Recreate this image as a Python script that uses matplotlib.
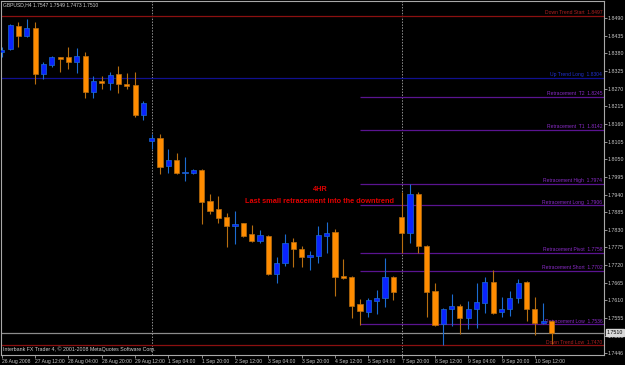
import matplotlib
matplotlib.use("Agg")
import matplotlib.pyplot as plt
import matplotlib.transforms as mtransforms

# ===============================
# DATOS (GBPUSD H4)
# ===============================
opens = [1.8384, 1.8393, 1.8465, 1.8434, 1.8459, 1.8316, 1.8344, 1.8369, 1.8368, 1.8353,
         1.8372, 1.8259, 1.8294, 1.8287, 1.8315, 1.8284, 1.8281, 1.8188, 1.8108, 1.8117,
         1.8029, 1.8048, 1.8007, 1.8007, 1.8016, 1.7920, 1.7895, 1.7870, 1.7842, 1.7851,
         1.7817, 1.7795, 1.7811, 1.7692, 1.7727, 1.7792, 1.7770, 1.7745, 1.7748, 1.7811,
         1.7823, 1.7686, 1.7683, 1.7599, 1.7574, 1.7608, 1.7617, 1.7683, 1.7870, 1.7820,
         1.7942, 1.7780, 1.7639, 1.7537, 1.7583, 1.7593, 1.7555, 1.7583, 1.7602, 1.7667,
         1.7574, 1.7583, 1.7617, 1.7667, 1.7583, 1.7540, 1.7547]
highs = [1.8400, 1.8471, 1.8478, 1.8487, 1.8478, 1.8353, 1.8372, 1.8370, 1.8400, 1.8397,
         1.8384, 1.8309, 1.8309, 1.8322, 1.8340, 1.8319, 1.8322, 1.8231, 1.8129, 1.8129,
         1.8082, 1.8069, 1.8057, 1.8019, 1.8019, 1.7942, 1.7935, 1.7882, 1.7889, 1.7852,
         1.7845, 1.7829, 1.7814, 1.7745, 1.7817, 1.7805, 1.7780, 1.7764, 1.7842, 1.7854,
         1.7833, 1.7739, 1.7686, 1.7614, 1.7617, 1.7642, 1.7742, 1.7686, 1.7948, 1.7973,
         1.7948, 1.7783, 1.7664, 1.7586, 1.7630, 1.7599, 1.7608, 1.7664, 1.7683, 1.7705,
         1.7621, 1.7639, 1.7677, 1.7670, 1.7621, 1.7602, 1.7549]
lows = [1.8369, 1.8390, 1.8400, 1.8431, 1.8284, 1.8300, 1.8337, 1.8322, 1.8331, 1.8319,
        1.8241, 1.8241, 1.8269, 1.8266, 1.8256, 1.8269, 1.8182, 1.8172, 1.8082, 1.8004,
        1.8007, 1.8004, 1.7982, 1.8004, 1.7848, 1.7879, 1.7851, 1.7776, 1.7786, 1.7808,
        1.7792, 1.7789, 1.7689, 1.7664, 1.7717, 1.7714, 1.7714, 1.7705, 1.7727, 1.7758,
        1.7624, 1.7677, 1.7555, 1.7533, 1.7558, 1.7568, 1.7590, 1.7611, 1.7758, 1.7789,
        1.7758, 1.7558, 1.7530, 1.7471, 1.7530, 1.7505, 1.7521, 1.7524, 1.7571, 1.7568,
        1.7558, 1.7561, 1.7602, 1.7546, 1.7502, 1.7537, 1.7473]
closes = [1.8390, 1.8468, 1.8434, 1.8459, 1.8316, 1.8347, 1.8369, 1.8362, 1.8353, 1.8372,
          1.8259, 1.8294, 1.8287, 1.8312, 1.8284, 1.8278, 1.8188, 1.8225, 1.8117, 1.8027,
          1.8048, 1.8007, 1.8009, 1.8016, 1.7917, 1.7889, 1.7867, 1.7842, 1.7848, 1.7811,
          1.7795, 1.7814, 1.7692, 1.7727, 1.7789, 1.7770, 1.7745, 1.7752, 1.7814, 1.7820,
          1.7683, 1.7680, 1.7593, 1.7577, 1.7611, 1.7617, 1.7683, 1.7636, 1.7820, 1.7942,
          1.7780, 1.7636, 1.7533, 1.7583, 1.7593, 1.7555, 1.7583, 1.7605, 1.7667, 1.7571,
          1.7583, 1.7617, 1.7664, 1.7583, 1.7540, 1.7546, 1.7510]

etiquetas_x = ["26 Aug 2008", "27 Aug 12:00", "28 Aug 04:00", "28 Aug 20:00", "29 Aug 12:00",
               "1 Sep 04:00", "1 Sep 20:00", "2 Sep 12:00", "3 Sep 04:00", "3 Sep 20:00",
               "4 Sep 12:00", "5 Sep 04:00", "7 Sep 20:00", "8 Sep 12:00", "9 Sep 04:00",
               "9 Sep 20:00", "10 Sep 12:00"]
pos_x = list(range(0, 65, 4))
separadores = [18, 48]

ticks_y = [1.8490, 1.8435, 1.8380, 1.8325, 1.8270, 1.8215, 1.8160, 1.8105, 1.8050, 1.7995,
           1.7940, 1.7885, 1.7830, 1.7775, 1.7720, 1.7665, 1.7610, 1.7555, 1.7500, 1.7446]

# niveles: (nombre, precio)
niveles_rojo = [("Down Trend Start", 1.8497), ("Down Trend Low", 1.7470)]
niveles_azul = [("Up Trend Long", 1.8304)]
niveles_retr = [("Retracement  T2", 1.8245), ("Retracement  T1", 1.8142),
                ("Retracement High", 1.7974), ("Retracement Long", 1.7906),
                ("Retracement Pivot", 1.7758), ("Retracement Short", 1.7702),
                ("Retracement Low", 1.7536)]
inicio_retr = 43
precio_actual = 1.7510

# ===============================
# COLORES
# ===============================
FONDO = "#000000"
NARANJA = "#FF8C00"
NARANJA_MECHA = "#B86E10"
AZUL = "#0A24FF"
AZUL_MECHA = "#1C6CD0"
GRIS = "#A8A8A8"
ROJO_NIVEL = "#8B1010"
AZUL_NIVEL = "#101090"
MORADO = "#5A1490"
MORADO_TXT = "#8A2BC8"
FUENTE = "Liberation Sans"

# ===============================
# GRAFICA
# ===============================
fig = plt.figure(figsize=(6.25, 3.65), dpi=100, facecolor=FONDO)
ax = fig.add_axes([1 / 625, 10 / 365, 603 / 625, 354 / 365], facecolor=FONDO)
ax.set_xlim(-0.1, 72.3)
ax.set_ylim(1.7440, 1.8543)

xmax = 72.3
for s in separadores:
    ax.axvline(s, color="#909090", lw=0.7, ls=(0, (1.5, 1.5)), zorder=1)

# lineas horizontales
for nombre, p in niveles_rojo:
    ax.axhline(p, color=ROJO_NIVEL, lw=0.9, zorder=1)
    ax.text(72.1, p + 0.0002, f"{nombre}  {p:.4f}", color="#B02020", fontsize=3.6,
            ha="right", va="bottom", family=FUENTE)
for nombre, p in niveles_azul:
    ax.axhline(p, color=AZUL_NIVEL, lw=0.9, zorder=1)
    ax.text(72.1, p + 0.0002, f"{nombre}  {p:.4f}", color="#2030D0", fontsize=3.6,
            ha="right", va="bottom", family=FUENTE)
for nombre, p in niveles_retr:
    ax.hlines(p, inicio_retr, xmax, color=MORADO, lw=0.9, zorder=1)
    ax.text(72.1, p + 0.0002, f"{nombre}  {p:.4f}", color=MORADO_TXT, fontsize=3.6,
            ha="right", va="bottom", family=FUENTE)
ax.axhline(precio_actual, color="#8C8C8C", lw=0.9, zorder=1)

# velas
for i in range(len(opens)):
    o, h, l, c = opens[i], highs[i], lows[i], closes[i]
    baja = c < o
    cuerpo = NARANJA if baja else AZUL
    mecha = NARANJA_MECHA if baja else AZUL_MECHA
    ax.vlines(i, l, h, color=mecha, lw=0.8, zorder=2)
    alto = max(abs(c - o), 0.0004)
    ax.bar(i, alto, bottom=min(o, c), width=0.62, color=cuerpo,
           edgecolor=mecha, linewidth=0.5, zorder=3)

# textos
ax.text(38.2, 1.7956, "4HR", color="#E00000", fontsize=5.3, fontweight="bold",
        ha="center", va="center", family=FUENTE)
ax.text(38.2, 1.7919, "Last small retracement into the downtrend", color="#E00000",
        fontsize=5.3, fontweight="bold", ha="center", va="center", family=FUENTE)
ax.text(0.003, 0.988, "GBPUSD,H4 1.7547 1.7549 1.7473 1.7510", transform=ax.transAxes,
        color="#D0D0D0", fontsize=3.6, ha="left", va="center", family=FUENTE)
ax.text(0.003, 0.017, "Interbank FX Trader 4, \u00a9 2001-2008 MetaQuotes Software Corp.",
        transform=ax.transAxes, color="#D0D0D0", fontsize=3.8, ha="left", va="center",
        family=FUENTE)

# ejes
ax.yaxis.tick_right()
ax.set_yticks(ticks_y)
ax.set_yticklabels([f"{t:.4f}" for t in ticks_y])
ax.set_xticks(pos_x)
ax.set_xticklabels(etiquetas_x)
for lbl in ax.get_xticklabels():
    lbl.set_horizontalalignment("left")
ax.tick_params(axis="y", colors=GRIS, labelsize=3.8, length=2, width=0.6, pad=0.8)
ax.tick_params(axis="x", colors=GRIS, labelsize=3.6, length=2, width=0.6, pad=1)
for lbl in ax.get_xticklabels() + ax.get_yticklabels():
    lbl.set_family(FUENTE)
    lbl.set_color("#C8C8C8")
for sp in ax.spines.values():
    sp.set_color(GRIS)
    sp.set_linewidth(0.8)

# caja del precio actual
trans = mtransforms.blended_transform_factory(ax.transAxes, ax.transData)
ax.text(1.005, precio_actual, f"{precio_actual:.4f}", transform=trans, color="#000000",
        fontsize=3.8, ha="left", va="center", family=FUENTE, clip_on=False,
        zorder=10, bbox=dict(boxstyle="square,pad=0.2", fc="#D8D8D8", ec="#D8D8D8"))

fig.savefig("out.png", dpi=100, facecolor=FONDO)
